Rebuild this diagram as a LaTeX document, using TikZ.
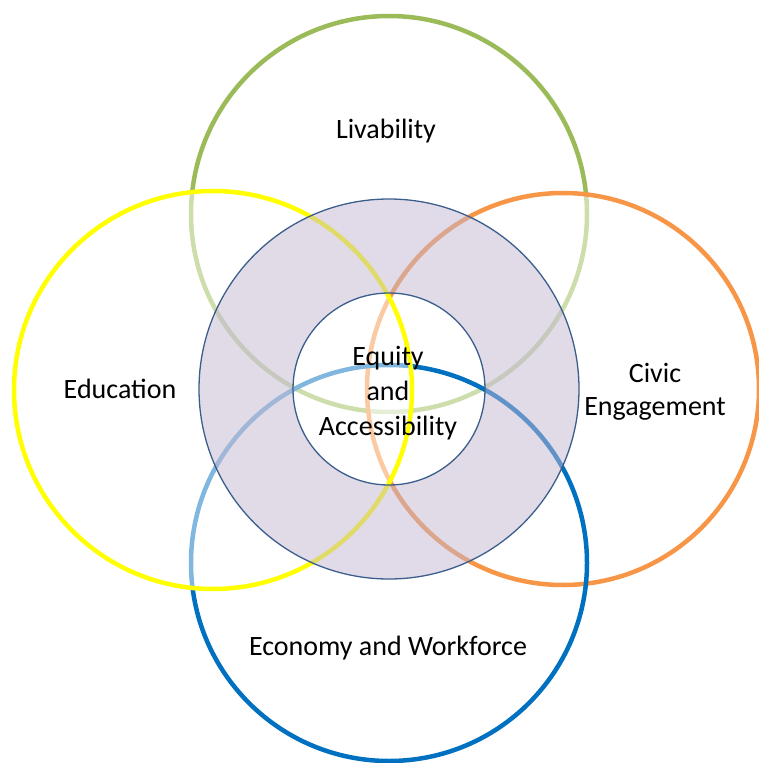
\documentclass[tikz,border=0pt]{standalone}
\usepackage{fontspec}
\setmainfont{Carlito}
\begin{document}
\begin{tikzpicture}[x=1pt,y=-1pt,
  hoop/.style={line width=4.5pt},
  veil/.style={fill=white, fill opacity=0.5},
  coreline/.style={draw=coreblue, line width=1.3pt},
  lbl/.style={font=\fontsize{28}{33}\selectfont, align=center, inner sep=0pt, text=black},
  corelbl/.style={lbl, font=\fontsize{28}{35}\selectfont}]
\definecolor{livgreen}{HTML}{9BBB59}
\definecolor{civorange}{HTML}{F79646}
\definecolor{econblue}{HTML}{0070C0}
\definecolor{eduyellow}{HTML}{FFFF00}
\definecolor{coreblue}{HTML}{3B5E8C}
\definecolor{corefill}{RGB}{195,183,211}

\useasboundingbox (0,0) rectangle (759,763);

% centres of the five circles
\coordinate (liv) at (389,214);
\coordinate (civ) at (563,389);
\coordinate (eco) at (389,563);
\coordinate (edu) at (213,390);
\coordinate (core) at (389,389);

% outer theme circles, each with a light white veil over what lies beneath
\draw[hoop, livgreen] (liv) circle[radius=198pt];
\draw[hoop, civorange, veil] (civ) circle[radius=196pt];
\draw[hoop, econblue] (eco) circle[radius=198pt];
\draw[hoop, eduyellow, veil] (edu) circle[radius=199pt];

% translucent ring around the core
\fill[corefill, fill opacity=0.5, even odd rule]
  (core) circle[radius=190pt] (core) circle[radius=96pt];
\draw[coreline] (core) circle[radius=190pt];
\draw[coreline] (core) circle[radius=96pt];

% labels
\node[lbl] (tLiv) at (386,131) {Livability};
\node[lbl] (tEdu) at (120,389) {Education};
\node[lbl] (tCiv) at (655,392) {Civic\\Engagement};
\node[corelbl] (tCore) at (388,393) {Equity\\and\\Accessibility};
\node[lbl] (tEco) at (388,648) {Economy and Workforce};
\end{tikzpicture}
\end{document}
